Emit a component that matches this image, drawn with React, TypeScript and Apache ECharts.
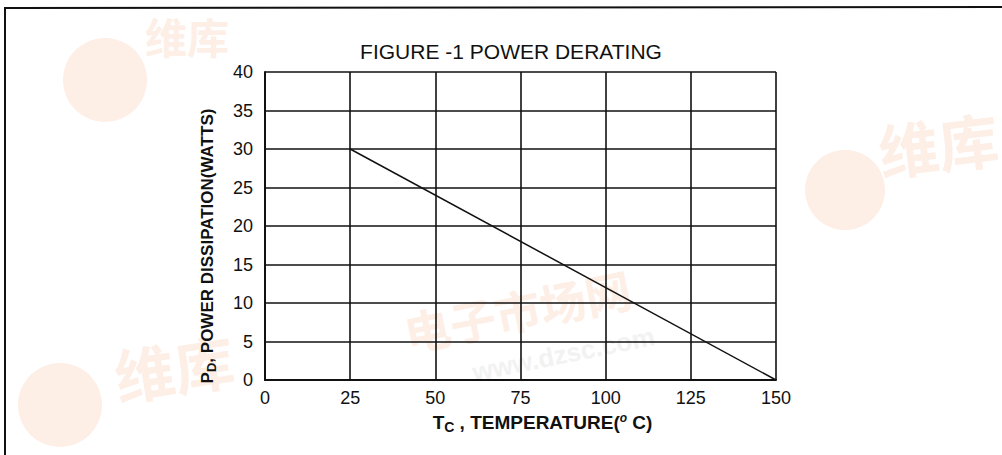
import React, { useEffect, useRef } from "react";
import * as echarts from "echarts";

const temperatures = [25, 150];
const powerWatts = [30, 0];
const xTicks = [0, 25, 50, 75, 100, 125, 150];
const yTicks = [0, 5, 10, 15, 20, 25, 30, 35, 40];
const titleText = "FIGURE -1 POWER DERATING";

export default function App() {
  const ref = useRef<HTMLDivElement>(null);
  useEffect(() => {
    if (!ref.current) return;
    const chart = echarts.init(ref.current, null, { renderer: "svg" });
    const font = "'Liberation Sans', Arial, sans-serif";
    const wm = "#fdeee6";
    const cjk = "bold 60px 'Noto Sans CJK SC'";
    chart.setOption({
      animation: false,
      backgroundColor: "#ffffff",
      title: {
        text: titleText,
        left: 506,
        textAlign: "center",
        top: 36,
        textStyle: { fontFamily: font, fontSize: 21, fontWeight: "normal", color: "#111" },
      },
      graphic: [
        { type: "circle", shape: { cx: 105, cy: 80, r: 42 }, style: { fill: wm }, z: -10 },
        { type: "text", x: 145, y: 14, style: { text: "维库", font: "bold 42px 'Noto Sans CJK SC'", fill: wm }, z: -10 },
        { type: "circle", shape: { cx: 845, cy: 190, r: 40 }, style: { fill: wm }, z: -10 },
        { type: "text", x: 875, y: 120, rotation: 0.12, style: { text: "维库", font: cjk, fill: wm }, z: -10 },
        { type: "circle", shape: { cx: 60, cy: 405, r: 42 }, style: { fill: wm }, z: -10 },
        { type: "text", x: 110, y: 345, rotation: 0.15, style: { text: "维库", font: cjk, fill: wm }, z: -10 },
        { type: "text", x: 400, y: 310, rotation: 0.2, style: { text: "电子市场网", font: "bold 46px 'Noto Sans CJK SC'", fill: wm }, z: -10 },
        { type: "text", x: 470, y: 360, rotation: 0.2, style: { text: "www.dzsc.com", font: "bold 26px 'Liberation Sans'", fill: "#f2f2f2" }, z: -10 },
        {
          type: "polyline",
          shape: { points: [[5, 455], [5, 8], [1002, 7]] },
          style: { stroke: "#111", lineWidth: 2, fill: "none" },
          z: 10,
        },
      ],
      grid: { left: 265, top: 72, right: 226, bottom: 75 },
      xAxis: {
        type: "value",
        min: xTicks[0],
        max: xTicks[xTicks.length - 1],
        interval: 25,
        name: "{t|T}{sub|C}{t| , TEMPERATURE(}{deg|o}{t| C)}",
        nameLocation: "middle",
        nameGap: 23,
        nameTextStyle: {
          padding: [0, 0, 0, 44],
          rich: {
            t: { fontFamily: font, fontSize: 19, fontWeight: "bold", color: "#111" },
            sub: { fontFamily: font, fontSize: 14, fontWeight: "bold", color: "#111", padding: [9, 0, 0, 0] },
            deg: { fontFamily: font, fontSize: 12, fontWeight: "bold", fontStyle: "italic", color: "#111", padding: [0, 0, 9, 0] },
          },
        },
        axisLine: { show: true, lineStyle: { color: "#111", width: 2 } },
        axisTick: { show: false },
        axisLabel: { fontFamily: font, fontSize: 18, color: "#111", margin: 9 },
        splitLine: { show: true, lineStyle: { color: "#111", width: 1.6 } },
      },
      yAxis: {
        type: "value",
        min: yTicks[0],
        max: yTicks[yTicks.length - 1],
        interval: 5,
        name: "{t|P}{sub|D}{t|, POWER DISSIPATION(WATTS)}",
        nameLocation: "middle",
        nameRotate: 90,
        nameGap: 47,
        nameTextStyle: {
          padding: [0, 40, 0, 0],
          rich: {
            t: { fontFamily: font, fontSize: 17, fontWeight: "bold", color: "#111" },
            sub: { fontFamily: font, fontSize: 13, fontWeight: "bold", color: "#111", padding: [9, 0, 0, 0] },
          },
        },
        axisLine: { show: true, lineStyle: { color: "#111", width: 2 } },
        axisTick: { show: false },
        axisLabel: { fontFamily: font, fontSize: 18, color: "#111", margin: 12 },
        splitLine: { show: true, lineStyle: { color: "#111", width: 1.6 } },
      },
      series: [
        {
          type: "line",
          data: temperatures.map((t, i) => [t, powerWatts[i]]),
          showSymbol: false,
          lineStyle: { color: "#111", width: 1.5 },
        },
      ],
    });
    return () => chart.dispose();
  }, []);
  return (
    <div
      ref={ref}
      style={{ position: "fixed", left: 0, top: 0, width: 1002, height: 455 }}
    />
  );
}
